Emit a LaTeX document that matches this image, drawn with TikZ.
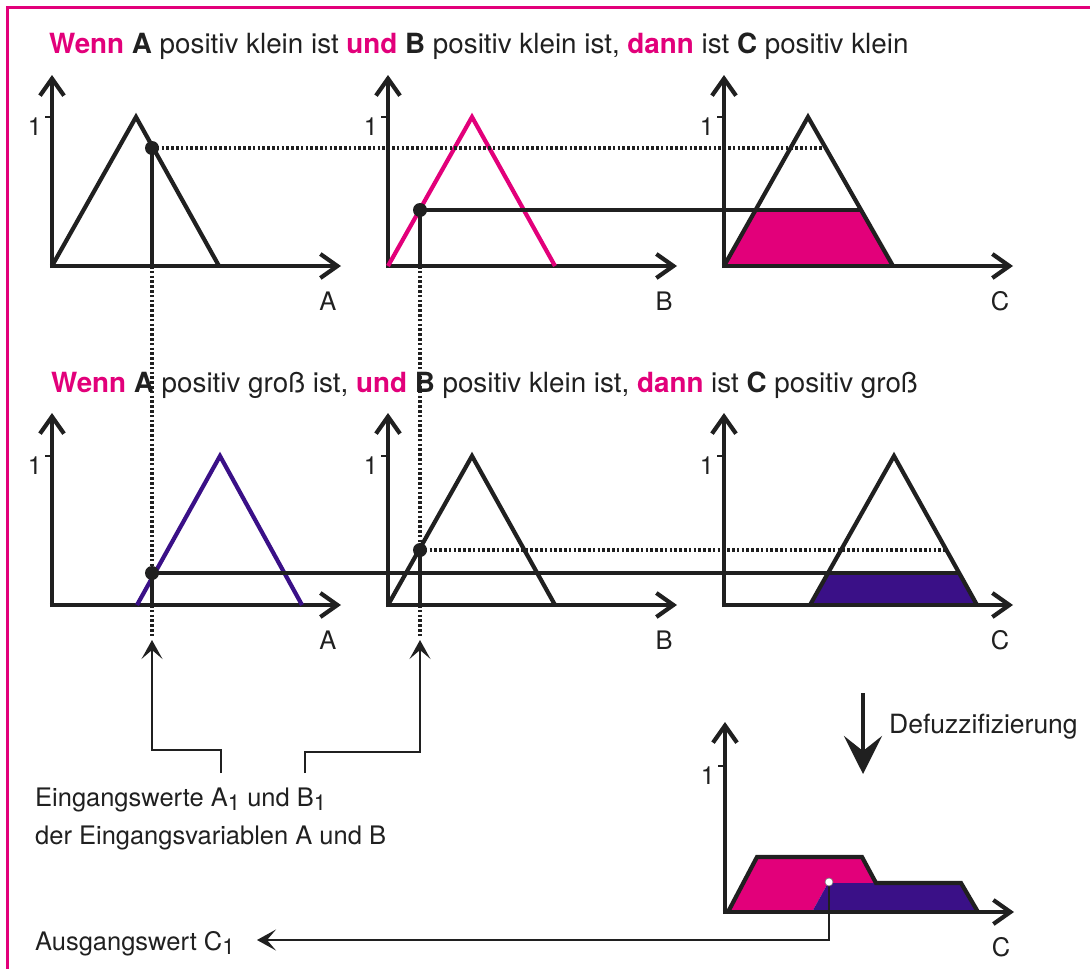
\documentclass[tikz,border=0pt]{standalone}
\usepackage{fontspec}
\setmainfont{TeX Gyre Heros}
\usetikzlibrary{arrows.meta}
\definecolor{ink}{RGB}{32,32,32}
\definecolor{mag}{RGB}{226,0,122}
\definecolor{pur}{RGB}{58,16,135}
\newcommand\subone{\raisebox{-0.35ex}{\fontsize{22}{22}\selectfont 1}}
\newcommand\kw[1]{\textcolor{mag}{\textbf{#1}}}
\begin{document}
\begin{tikzpicture}[x=1pt,y=-1pt,
  axisline/.style={ink,line width=4.2pt},
  axisarrow/.style={axisline,-{Straight Barb[length=17pt,width=24pt]}},
  curve/.style={line width=4.2pt,line join=miter},
  dotline/.style={ink,line width=3.2pt,dash pattern=on 2.6pt off 2.2pt},
  solidline/.style={ink,line width=3.6pt},
  thinline/.style={ink,line width=1.4pt},
  thinarrow/.style={thinline,-{Stealth[length=19pt,width=21pt,inset=9pt,line width=1.4pt]}},
  titletext/.style={font=\fontsize{27.8}{30}\selectfont,text=ink,inner sep=0pt},
  lbl/.style={font=\fontsize{25.5}{30}\selectfont,text=ink,inner sep=0pt},
  onelbl/.style={font=\fontsize{25}{28}\selectfont,text=ink,inner sep=0pt,anchor=north east},
  dotmark/.style={ink},
]
\useasboundingbox (0,0) rectangle (1090,969);

% frame
\draw[mag,line width=3pt] (7,975) -- (7,7) -- (1095,7);

% titles
\node[titletext,anchor=base west] (t1) at (49,53) {\kw{Wenn} \textbf{A} positiv klein ist \kw{und} \textbf{B} positiv klein ist, \kw{dann} ist \textbf{C} positiv klein};
\node[titletext,anchor=base west] (t2) at (51,392) {\kw{Wenn} \textbf{A} positiv groß ist, \kw{und} \textbf{B} positiv klein ist, \kw{dann} ist \textbf{C} positiv groß};

% fills
\fill[mag] (724,266) -- (756,210) -- (861,210) -- (893,266) -- cycle;
\fill[pur] (810,605) -- (828,573) -- (959,573) -- (977,605) -- cycle;
\fill[mag] (728,912) -- (757,857) -- (862,857) -- (876,883) -- (828,883) -- (812,912) -- cycle;
\fill[pur] (812,912) -- (828,883) -- (961,883) -- (978,912) -- cycle;

% axes
\foreach \x/\y/\n/\lab/\top in {52/266/A1/A/191, 388/266/B1/B/191, 724/266/C1/C/191, 52/605/A2/A/192, 388/605/B2/B/192, 724/605/C2/C/192, 725/912/C3/C/190}{
  \coordinate (o\n) at (\x,\y);
  \draw[axisarrow] (\x,\y+2.1) -- (\x,\y-\top);
  \draw[axisarrow] (\x-2.1,\y) -- (\x+289,\y);
  \node[lbl] (l\n) at (\x+276,\y+35) {\lab};
}
\foreach \x/\y/\n in {52/117/A1, 388/117/B1, 724/117/C1, 52/456/A2, 388/456/B2, 724/456/C2, 725/766/C3}{
  \draw[thinline] (\x-7,\y) -- (\x,\y);
  \node[onelbl] (one\n) at (\x-10,\y+1) {1};
}

% membership functions
\draw[curve,ink] (52,266) -- (136,117) -- (219,266);
\draw[curve,mag] (388,266) -- (472,117) -- (555,266);
\draw[curve,ink] (724,266) -- (808,117) -- (893,266);
\draw[curve,pur] (137,605) -- (220,456) -- (302,605);
\draw[curve,ink] (388,605) -- (472,456) -- (555,605);
\draw[curve,ink] (810,605) -- (894,456) -- (977,605);
\draw[curve,ink] (728,912) -- (757,857) -- (862,857) -- (876,883) -- (961,883) -- (978,912);

% key points
\coordinate (a1) at (152,148);
\coordinate (b1) at (420,210);
\coordinate (a2) at (152,573);
\coordinate (b2) at (420,550);
\coordinate (c1d) at (826,148);
\coordinate (c1s) at (861,210);
\coordinate (c2d) at (946,550);
\coordinate (c2s) at (959,573);
\coordinate (axA1) at (152,266);
\coordinate (axB1) at (420,266);
\coordinate (axA2) at (152,605);
\coordinate (axB2) at (420,605);
\coordinate (tipA) at (152,640);
\coordinate (tipB) at (420,640);

% horizontal transfers
\draw[dotline] (a1) -- (c1d);
\draw[solidline] (b1) -- (c1s);
\draw[solidline] (a2) -- (c2s);
\draw[dotline] (b2) -- (c2d);

% vertical input lines
\draw[solidline] (a1) -- (axA1);
\draw[dotline] (axA1) -- (a2);
\draw[solidline] (a2) -- (axA2);
\draw[dotline] (axA2) -- (152,636);
\draw[solidline] (b1) -- (axB1);
\draw[dotline] (axB1) -- (b2);
\draw[solidline] (b2) -- (axB2);
\draw[dotline] (axB2) -- (420,636);

\foreach \p in {a1,b1,a2,b2}{\fill[dotmark] (\p) circle (7);}

% input labels and arrows
\node[lbl,anchor=base west] (ein1) at (35,806) {Eingangswerte A\subone{} und B\subone};
\node[lbl,anchor=base west] (ein2) at (35,844) {der Eingangsvariablen A und B};
\coordinate (eA) at (221,773);
\coordinate (eB) at (305,773);
\draw[thinarrow] (eA) -- (221,750) -- (152,750) -- (tipA);
\draw[thinarrow] (eB) -- (305,752) -- (420,752) -- (tipB);

% defuzzification
\coordinate (dtop) at (863,693);
\coordinate (dbot) at (863,774);
\draw[ink,line width=4.2pt,-{Stealth[length=38pt,width=38pt,inset=15pt]}] (dtop) -- (dbot);
\node[lbl,anchor=base west,font=\fontsize{26.5}{30}\selectfont] (defz) at (889,733) {Defuzzifizierung};

% output
\coordinate (cog) at (829,882);
\node[lbl,anchor=base west] (aus) at (35,950) {Ausgangswert C\subone};
\draw[thinarrow] (cog) -- (829,940) -- (257,940);
\fill[white,draw=ink!60,line width=0.6pt] (cog) circle (4);
\end{tikzpicture}
\end{document}
